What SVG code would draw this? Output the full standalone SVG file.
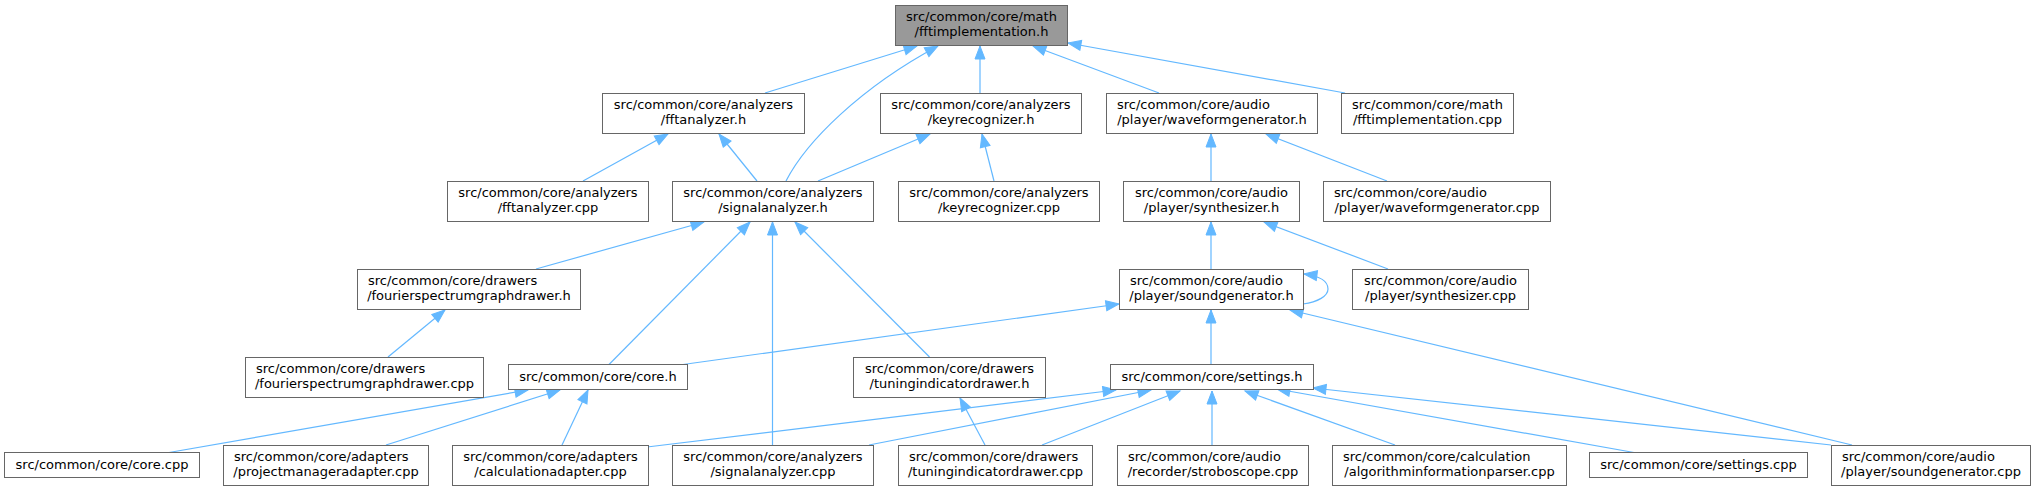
<svg xmlns="http://www.w3.org/2000/svg" width="2035" height="491" viewBox="0 0 2035 491">
<defs>
<style>
.n rect{fill:#ffffff;stroke:#666666;stroke-width:1}
#root rect{fill:#999999}
text{font-family:"DejaVu Sans","Liberation Sans",sans-serif;font-size:13px;fill:#000000}
.m{text-anchor:middle}
.s{text-anchor:start}
.e path{stroke:#63b8ff;stroke-width:1.2;fill:none;marker-end:url(#a)}
</style>
<marker id="a" markerUnits="userSpaceOnUse" markerWidth="14" markerHeight="11" refX="13" refY="5" orient="auto" overflow="visible">
<path d="M0,0L13,5L0,10z" fill="#63b8ff" stroke="#63b8ff" stroke-width="1"/>
</marker>
</defs>
<rect x="0" y="0" width="2035" height="491" fill="#ffffff"/>

<g class="e" id="edges">
<path d="M765,93L917,46"/>
<path d="M786,181C806,142 860,88 938,46"/>
<path d="M980,93L980,46"/>
<path d="M1159,93L1033,46"/>
<path d="M1345,93L1068,43"/>
<path d="M583,181L668,134"/>
<path d="M757,181L719,134"/>
<path d="M818,181L930,134"/>
<path d="M994,181L982,134"/>
<path d="M1211,181L1211,134"/>
<path d="M1387,181L1266,134"/>
<path d="M536,269L704,222"/>
<path d="M609,364.5L750,222"/>
<path d="M772.5,445L772.5,222"/>
<path d="M929.5,357L795,222"/>
<path d="M1211,269L1211,222"/>
<path d="M1388,269L1264,222"/>
<path d="M388,357L445,310"/>
<path d="M1303,304C1318,302 1328,296 1328,289C1328,281 1320,276 1304,274"/>
<path d="M683,364.5L1119,304"/>
<path d="M1211,364.5L1211,310"/>
<path d="M1852,445L1290,310"/>
<path d="M169,452.5L528,390"/>
<path d="M386,445L560,390"/>
<path d="M562,445L588,390"/>
<path d="M985,445L960,398"/>
<path d="M647,447L1116,390"/>
<path d="M869,445L1151,390"/>
<path d="M1042,445L1180,391"/>
<path d="M1212,445L1212,391"/>
<path d="M1395,445L1245,391"/>
<path d="M1634,452.5L1277,389"/>
<path d="M1831,445L1313,388"/>
</g>

<g class="n" id="root"><rect x="895.5" y="5.5" width="172" height="40"/><text class="m" x="981.5" y="21">src/common/core/math</text><text class="m" x="981.5" y="36">/fftimplementation.h</text></g>

<g class="n" id="fftanalyzer_h"><rect x="602.5" y="93.5" width="202" height="40"/><text class="m" x="703.5" y="109">src/common/core/analyzers</text><text class="m" x="703.5" y="124">/fftanalyzer.h</text></g>
<g class="n" id="keyrecognizer_h"><rect x="880.5" y="93.5" width="201" height="40"/><text class="m" x="981" y="109">src/common/core/analyzers</text><text class="m" x="981" y="124">/keyrecognizer.h</text></g>
<g class="n" id="waveformgenerator_h"><rect x="1106.5" y="93.5" width="211" height="40"/><text class="s" x="1117" y="109">src/common/core/audio</text><text class="m" x="1212" y="124">/player/waveformgenerator.h</text></g>
<g class="n" id="fftimplementation_cpp"><rect x="1341.5" y="93.5" width="172" height="40"/><text class="m" x="1427.5" y="109">src/common/core/math</text><text class="m" x="1427.5" y="124">/fftimplementation.cpp</text></g>

<g class="n" id="fftanalyzer_cpp"><rect x="447.5" y="181.5" width="201" height="40"/><text class="m" x="548" y="197">src/common/core/analyzers</text><text class="m" x="548" y="212">/fftanalyzer.cpp</text></g>
<g class="n" id="signalanalyzer_h"><rect x="672.5" y="181.5" width="201" height="40"/><text class="m" x="773" y="197">src/common/core/analyzers</text><text class="m" x="773" y="212">/signalanalyzer.h</text></g>
<g class="n" id="keyrecognizer_cpp"><rect x="898.5" y="181.5" width="201" height="40"/><text class="m" x="999" y="197">src/common/core/analyzers</text><text class="m" x="999" y="212">/keyrecognizer.cpp</text></g>
<g class="n" id="synthesizer_h"><rect x="1123.5" y="181.5" width="176" height="40"/><text class="m" x="1211.5" y="197">src/common/core/audio</text><text class="m" x="1211.5" y="212">/player/synthesizer.h</text></g>
<g class="n" id="waveformgenerator_cpp"><rect x="1323.5" y="181.5" width="227" height="40"/><text class="s" x="1334" y="197">src/common/core/audio</text><text class="m" x="1437" y="212">/player/waveformgenerator.cpp</text></g>

<g class="n" id="fourierspectrumgraphdrawer_h"><rect x="357.5" y="269.5" width="223" height="40"/><text class="s" x="368" y="285">src/common/core/drawers</text><text class="m" x="469" y="300">/fourierspectrumgraphdrawer.h</text></g>
<g class="n" id="soundgenerator_h"><rect x="1119.5" y="269.5" width="184" height="40"/><text class="s" x="1130" y="285">src/common/core/audio</text><text class="m" x="1211.5" y="300">/player/soundgenerator.h</text></g>
<g class="n" id="synthesizer_cpp"><rect x="1352.5" y="269.5" width="176" height="40"/><text class="m" x="1440.5" y="285">src/common/core/audio</text><text class="m" x="1440.5" y="300">/player/synthesizer.cpp</text></g>

<g class="n" id="fourierspectrumgraphdrawer_cpp"><rect x="245.5" y="357.5" width="238" height="40"/><text class="s" x="256" y="373">src/common/core/drawers</text><text class="m" x="364.5" y="388">/fourierspectrumgraphdrawer.cpp</text></g>
<g class="n" id="core_h"><rect x="508.5" y="364.5" width="179" height="25"/><text class="m" x="598" y="381">src/common/core/core.h</text></g>
<g class="n" id="tuningindicatordrawer_h"><rect x="853.5" y="357.5" width="192" height="40"/><text class="m" x="949.5" y="373">src/common/core/drawers</text><text class="m" x="949.5" y="388">/tuningindicatordrawer.h</text></g>
<g class="n" id="settings_h"><rect x="1110.5" y="364.5" width="203" height="25"/><text class="m" x="1212" y="381">src/common/core/settings.h</text></g>

<g class="n" id="core_cpp"><rect x="4.5" y="452.5" width="195" height="25"/><text class="m" x="102" y="469">src/common/core/core.cpp</text></g>
<g class="n" id="projectmanageradapter_cpp"><rect x="223.5" y="445.5" width="205" height="40"/><text class="s" x="234" y="461">src/common/core/adapters</text><text class="m" x="326" y="476">/projectmanageradapter.cpp</text></g>
<g class="n" id="calculationadapter_cpp"><rect x="452.5" y="445.5" width="196" height="40"/><text class="m" x="550.5" y="461">src/common/core/adapters</text><text class="m" x="550.5" y="476">/calculationadapter.cpp</text></g>
<g class="n" id="signalanalyzer_cpp"><rect x="672.5" y="445.5" width="201" height="40"/><text class="m" x="773" y="461">src/common/core/analyzers</text><text class="m" x="773" y="476">/signalanalyzer.cpp</text></g>
<g class="n" id="tuningindicatordrawer_cpp"><rect x="898.5" y="445.5" width="194" height="40"/><text class="s" x="909" y="461">src/common/core/drawers</text><text class="m" x="995.5" y="476">/tuningindicatordrawer.cpp</text></g>
<g class="n" id="stroboscope_cpp"><rect x="1117.5" y="445.5" width="191" height="40"/><text class="s" x="1128" y="461">src/common/core/audio</text><text class="m" x="1213" y="476">/recorder/stroboscope.cpp</text></g>
<g class="n" id="algorithminformationparser_cpp"><rect x="1332.5" y="445.5" width="234" height="40"/><text class="s" x="1343" y="461">src/common/core/calculation</text><text class="m" x="1449.5" y="476">/algorithminformationparser.cpp</text></g>
<g class="n" id="settings_cpp"><rect x="1589.5" y="452.5" width="218" height="25"/><text class="m" x="1698.5" y="469">src/common/core/settings.cpp</text></g>
<g class="n" id="soundgenerator_cpp"><rect x="1831.5" y="445.5" width="199" height="40"/><text class="s" x="1842" y="461">src/common/core/audio</text><text class="m" x="1931" y="476">/player/soundgenerator.cpp</text></g>
</svg>
